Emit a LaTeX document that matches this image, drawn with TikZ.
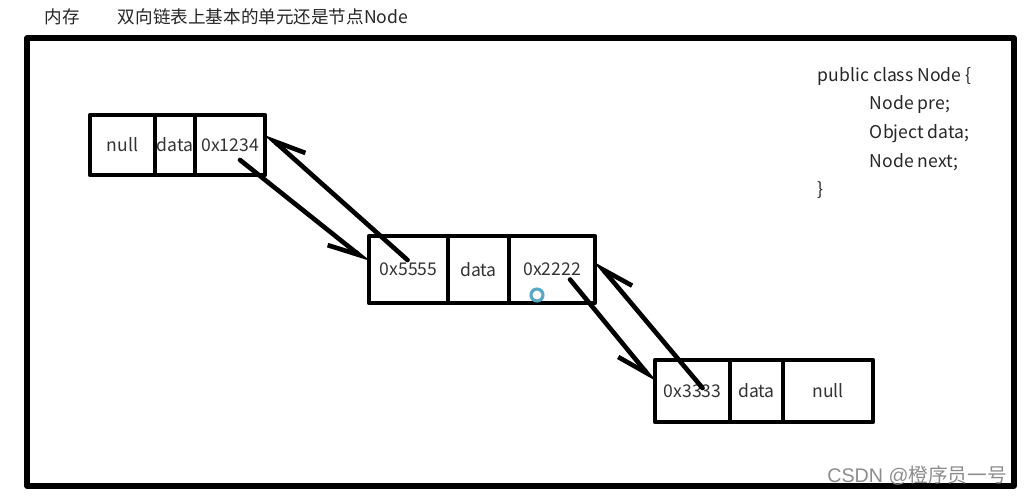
\documentclass[tikz,border=0pt]{standalone}
\usepackage{fontspec}
\setmainfont{Noto Sans CJK SC}
\newfontfamily\marcafont{Liberation Sans}
\usetikzlibrary{arrows.meta,calc}

\begin{document}
\begin{tikzpicture}[
    x=0.025cm,
    y=0.025cm,
    line join=round,
    line cap=round,
    every node/.style={font=\fontsize{12.5}{15}\selectfont, text=black!85},
    marco/.style={line width=3.6pt},
    celda/.style={draw, line width=3.3pt, inner sep=0pt, outer sep=0pt, text=black!80},
    flecha/.style={line width=3.3pt, -{Straight Barb[right, length=22pt, width=17pt]}},
    codigo/.style={anchor=west}
]

\useasboundingbox (0,0) rectangle (1027,496);

% memoria
\draw[marco] (27,10) rectangle (1014,458);

\node[anchor=west] (mem) at (40,479) {内存};
\node[anchor=west] (titulo) at (113,479) {双向链表上基本的单元还是节点Node};

% nodo 1
\node[celda, minimum width=1.625cm, minimum height=1.5cm] (n1a) at (122.5,351) {null};
\node[celda, minimum width=1.0cm, minimum height=1.5cm, anchor=west] (n1b) at (n1a.east) {data};
\node[celda, minimum width=1.75cm, minimum height=1.5cm, anchor=west] (n1c) at (n1b.east) {0x1234};

% nodo 2
\node[celda, minimum width=1.975cm, minimum height=1.675cm] (n2a) at (408.5,226.5) {0x5555};
\node[celda, minimum width=1.525cm, minimum height=1.675cm, anchor=west] (n2b) at (n2a.east) {data};
\node[celda, minimum width=2.15cm, minimum height=1.675cm, anchor=west] (n2c) at (n2b.east) {0x2222};

% nodo 3
\node[celda, minimum width=1.875cm, minimum height=1.55cm] (n3a) at (692.5,105) {0x3333};
\node[celda, minimum width=1.325cm, minimum height=1.55cm, anchor=west] (n3b) at (n3a.east) {data};
\node[celda, minimum width=2.25cm, minimum height=1.55cm, anchor=west] (n3c) at (n3b.east) {null};

% next / pre
\draw[flecha] ($(n1c.center)+(10,-15)$) -- ($(n2a.north west)!0.4!(n2a.south west)$);
\draw[flecha] ($(n2a.center)+(-1,9.5)$) -- ($(n1c.north east)!0.3!(n1c.south east)$);
\draw[flecha] ($(n2c.center)+(18,-10)$) -- ($(n3a.north west)!0.37!(n3a.south west)$);
\draw[flecha] ($(n3a.center)+(10,3)$) -- ($(n2c.north east)!0.36!(n2c.south east)$);

\draw[cyan!45!teal!80, line width=2.2pt] (537,201) circle[radius=6];

% clase Node
\node[codigo] (c1) at (813,419) {public class Node \{};
\node[codigo] (c2) at (865,391) {Node pre;};
\node[codigo] (c3) at (865,362) {Object data;};
\node[codigo] (c4) at (865,334) {Node next;};
\node[codigo] (c5) at (813,306) {\}};

\node[anchor=east, text=black!45, font=\fontsize{14}{16}\selectfont] (marca) at (1012,20) {{\marcafont CSDN @}橙序员一号};

\end{tikzpicture}
\end{document}
